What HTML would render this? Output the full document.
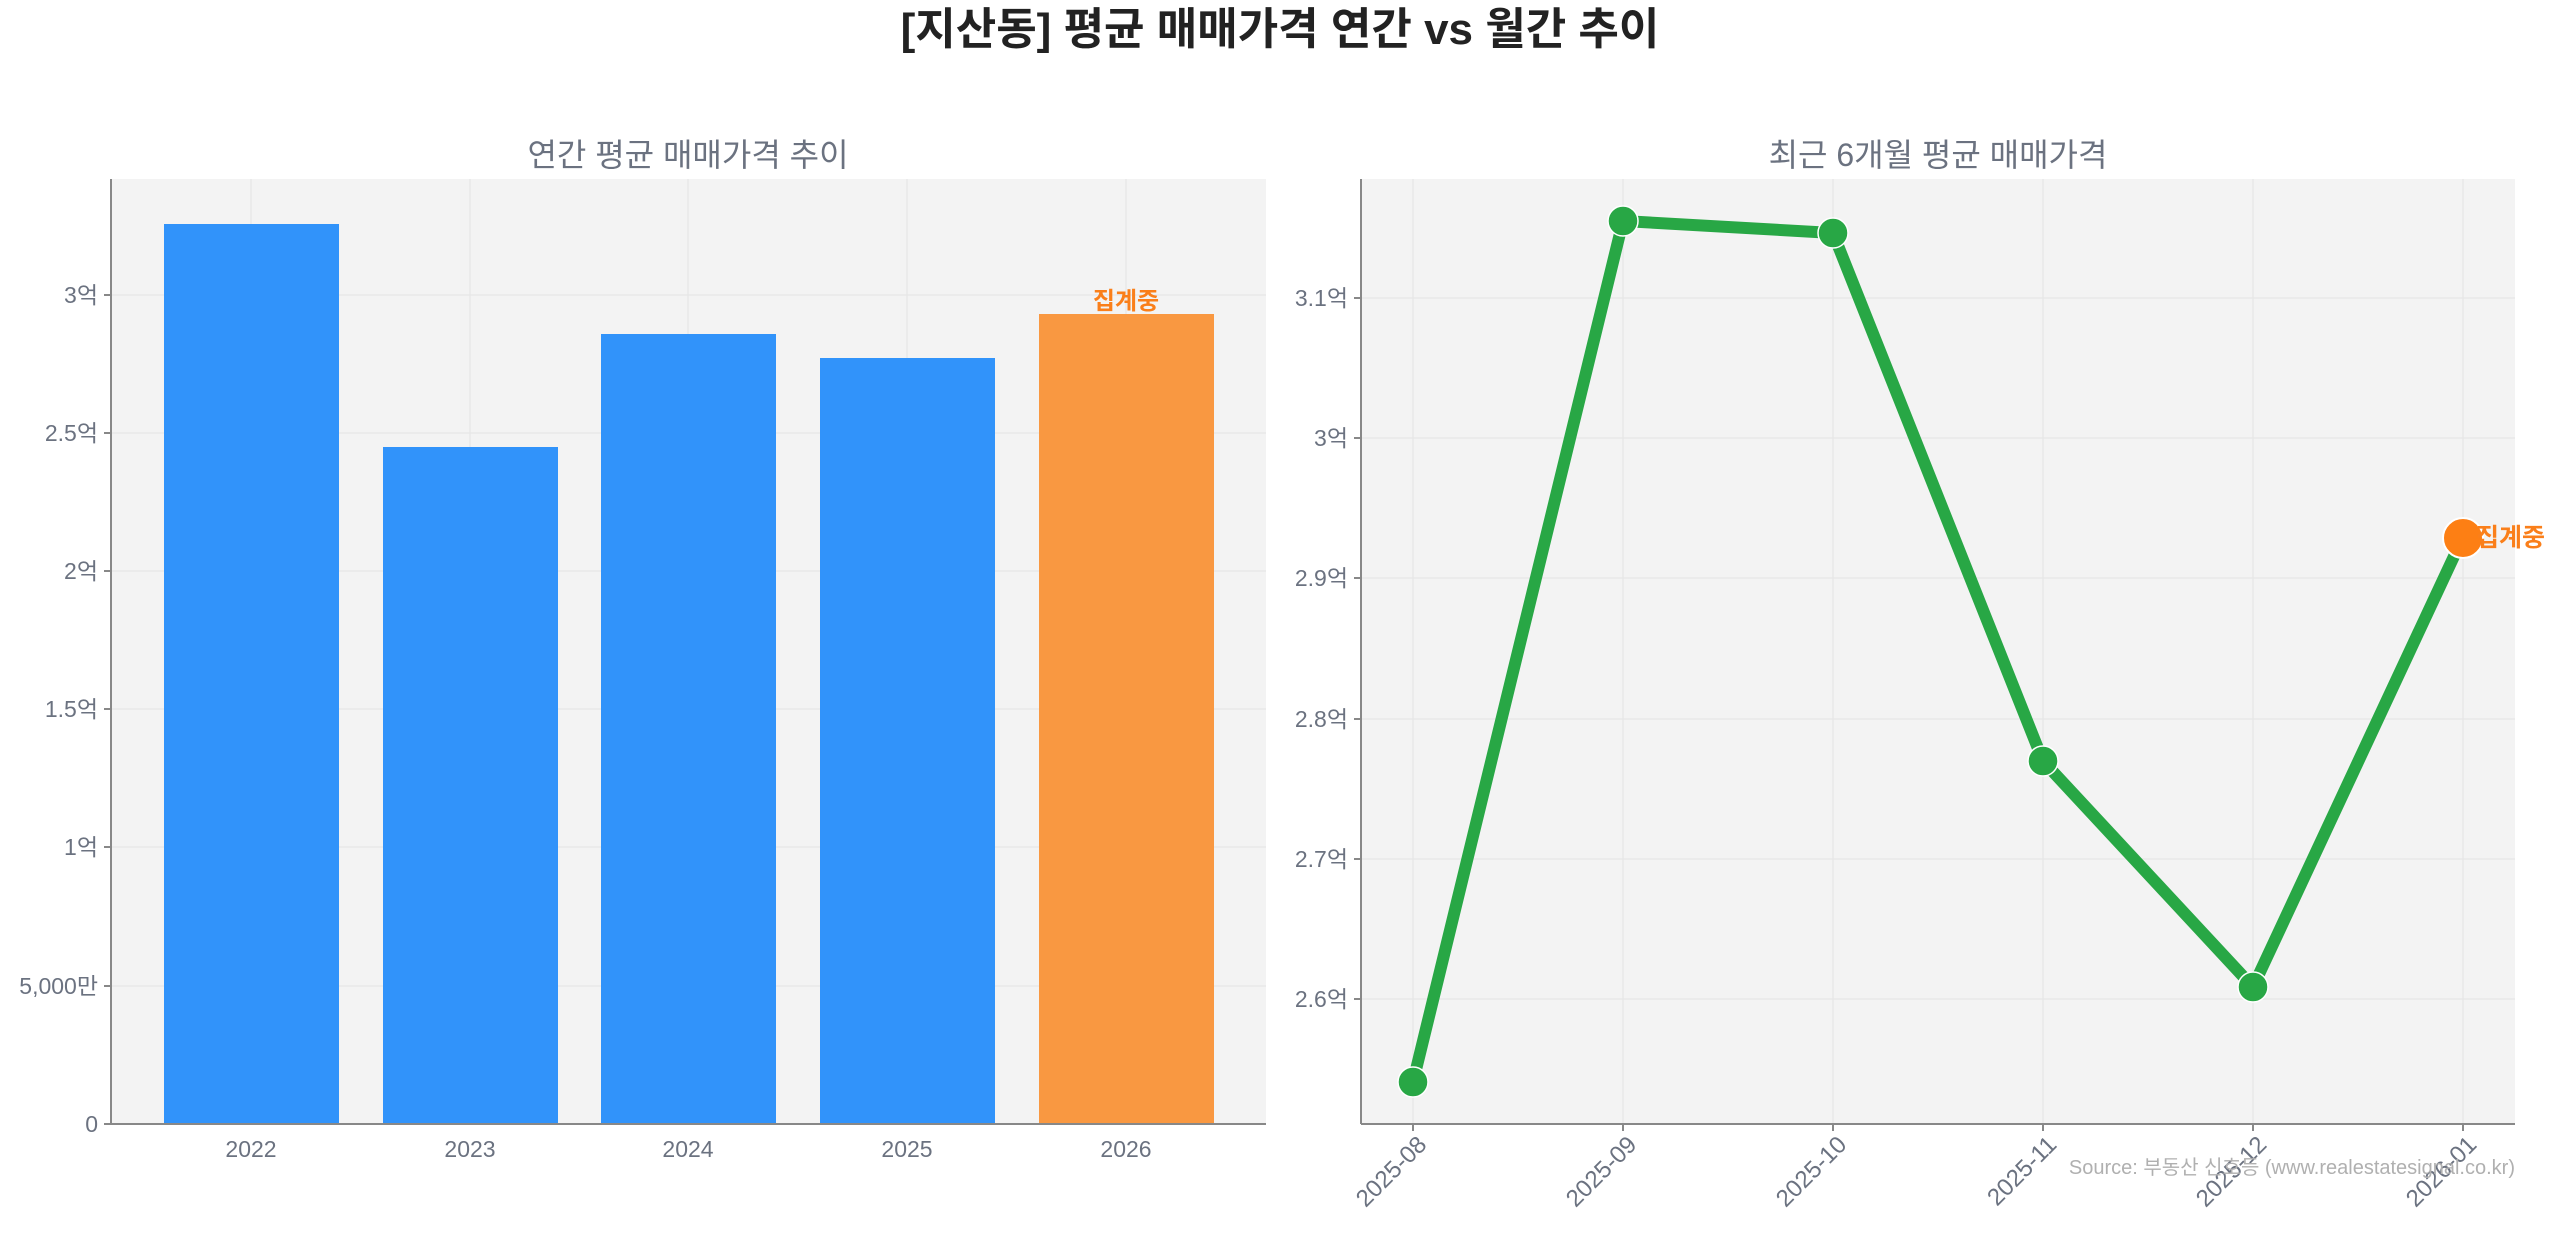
<!DOCTYPE html>
<html><head><meta charset="utf-8"><style>
html,body{margin:0;padding:0;background:#fff}
svg text{font-family:"Liberation Sans","Noto Sans CJK KR",sans-serif}
</style></head><body>
<svg width="2560" height="1234" viewBox="0 0 2560 1234" xmlns="http://www.w3.org/2000/svg">
<text x="1280" y="44" text-anchor="middle" font-size="44" font-weight="bold" fill="#222">[지산동] 평균 매매가격 연간 vs 월간 추이</text>
<!-- Left axes -->
<rect x="111" y="179" width="1155" height="945" fill="#f3f3f3"/>
<g stroke="#e6e6e6" stroke-width="1.2">
<line x1="111" x2="1266" y1="986" y2="986"/><line x1="111" x2="1266" y1="847" y2="847"/>
<line x1="111" x2="1266" y1="709" y2="709"/><line x1="111" x2="1266" y1="571" y2="571"/>
<line x1="111" x2="1266" y1="433" y2="433"/><line x1="111" x2="1266" y1="295" y2="295"/>
<line x1="251" x2="251" y1="179" y2="1124"/><line x1="470" x2="470" y1="179" y2="1124"/>
<line x1="688" x2="688" y1="179" y2="1124"/><line x1="907" x2="907" y1="179" y2="1124"/>
<line x1="1126" x2="1126" y1="179" y2="1124"/>
</g>
<rect x="164" y="224" width="175" height="900" fill="#3193fa"/>
<rect x="383" y="447" width="175" height="677" fill="#3193fa"/>
<rect x="601" y="334" width="175" height="790" fill="#3193fa"/>
<rect x="820" y="358" width="175" height="766" fill="#3193fa"/>
<rect x="1039" y="314" width="175" height="810" fill="#f99841"/>
<text x="1126" y="309" text-anchor="middle" font-size="24" font-weight="bold" fill="#fa7f1a">집계중</text>
<line x1="111" y1="179" x2="111" y2="1124" stroke="#888" stroke-width="2"/>
<line x1="111" y1="1124" x2="1266" y2="1124" stroke="#888" stroke-width="2"/>
<g stroke="#888" stroke-width="2">
<line x1="104" x2="111" y1="1124" y2="1124"/><line x1="104" x2="111" y1="986" y2="986"/><line x1="104" x2="111" y1="847" y2="847"/>
<line x1="104" x2="111" y1="709" y2="709"/><line x1="104" x2="111" y1="571" y2="571"/><line x1="104" x2="111" y1="433" y2="433"/><line x1="104" x2="111" y1="295" y2="295"/>
<line x1="1354" x2="1361" y1="298" y2="298"/><line x1="1354" x2="1361" y1="438" y2="438"/><line x1="1354" x2="1361" y1="578" y2="578"/>
<line x1="1354" x2="1361" y1="719" y2="719"/><line x1="1354" x2="1361" y1="859" y2="859"/><line x1="1354" x2="1361" y1="999" y2="999"/>
<line x1="1413" x2="1413" y1="1124" y2="1131"/><line x1="1623" x2="1623" y1="1124" y2="1131"/><line x1="1833" x2="1833" y1="1124" y2="1131"/>
<line x1="2043" x2="2043" y1="1124" y2="1131"/><line x1="2253" x2="2253" y1="1124" y2="1131"/><line x1="2463" x2="2463" y1="1124" y2="1131"/>
</g>
<g font-size="23" fill="#6b7280" text-anchor="end">
<text x="98" y="1132">0</text><text x="98" y="994">5,000만</text><text x="98" y="855">1억</text>
<text x="98" y="717">1.5억</text><text x="98" y="579">2억</text><text x="98" y="441">2.5억</text><text x="98" y="303">3억</text>
</g>
<g font-size="23" fill="#6b7280" text-anchor="middle">
<text x="251" y="1157">2022</text><text x="470" y="1157">2023</text><text x="688" y="1157">2024</text>
<text x="907" y="1157">2025</text><text x="1126" y="1157">2026</text>
</g>
<text x="688" y="166" text-anchor="middle" font-size="32" fill="#6b7280">연간 평균 매매가격 추이</text>
<!-- Right axes -->
<rect x="1361" y="179" width="1154" height="945" fill="#f3f3f3"/>
<g stroke="#e6e6e6" stroke-width="1.2">
<line x1="1361" x2="2515" y1="298" y2="298"/><line x1="1361" x2="2515" y1="438" y2="438"/>
<line x1="1361" x2="2515" y1="578" y2="578"/><line x1="1361" x2="2515" y1="719" y2="719"/>
<line x1="1361" x2="2515" y1="859" y2="859"/><line x1="1361" x2="2515" y1="999" y2="999"/>
<line x1="1413" x2="1413" y1="179" y2="1124"/><line x1="1623" x2="1623" y1="179" y2="1124"/>
<line x1="1833" x2="1833" y1="179" y2="1124"/><line x1="2043" x2="2043" y1="179" y2="1124"/>
<line x1="2253" x2="2253" y1="179" y2="1124"/><line x1="2463" x2="2463" y1="179" y2="1124"/>
</g>
<polyline points="1413,1082 1623,221 1833,233 2043,761 2253,987 2463,537" fill="none" stroke="#28a745" stroke-width="12" stroke-linejoin="round"/>
<g fill="#28a745" stroke="#fff" stroke-width="1.5">
<circle cx="1413" cy="1082" r="15"/><circle cx="1623" cy="221" r="15"/><circle cx="1833" cy="233" r="15"/>
<circle cx="2043" cy="761" r="15"/><circle cx="2253" cy="987" r="15"/>
</g>
<circle cx="2463" cy="538" r="20" fill="#fd7f14" stroke="#fff" stroke-width="2"/>
<text x="2476" y="546" font-size="25" font-weight="bold" fill="#fa7f1a">집계중</text>
<line x1="1361" y1="179" x2="1361" y2="1124" stroke="#888" stroke-width="2"/>
<line x1="1361" y1="1124" x2="2515" y2="1124" stroke="#888" stroke-width="2"/>
<g font-size="23" fill="#6b7280" text-anchor="end">
<text x="1348" y="306">3.1억</text><text x="1348" y="446">3억</text><text x="1348" y="586">2.9억</text>
<text x="1348" y="727">2.8억</text><text x="1348" y="867">2.7억</text><text x="1348" y="1007">2.6억</text>
</g>
<g font-size="24" fill="#6b7280" text-anchor="end">
<text transform="translate(1428,1146) rotate(-45)">2025-08</text>
<text transform="translate(1638,1146) rotate(-45)">2025-09</text>
<text transform="translate(1848,1146) rotate(-45)">2025-10</text>
<text transform="translate(2058,1146) rotate(-45)">2025-11</text>
<text transform="translate(2268,1146) rotate(-45)">2025-12</text>
<text transform="translate(2478,1146) rotate(-45)">2026-01</text>
</g>
<text x="1938" y="166" text-anchor="middle" font-size="32" fill="#6b7280">최근 6개월 평균 매매가격</text>
<text x="2515" y="1174" text-anchor="end" font-size="20" fill="#b0b0b0">Source: 부동산 신호등 (www.realestatesignal.co.kr)</text>
</svg>
</body></html>
